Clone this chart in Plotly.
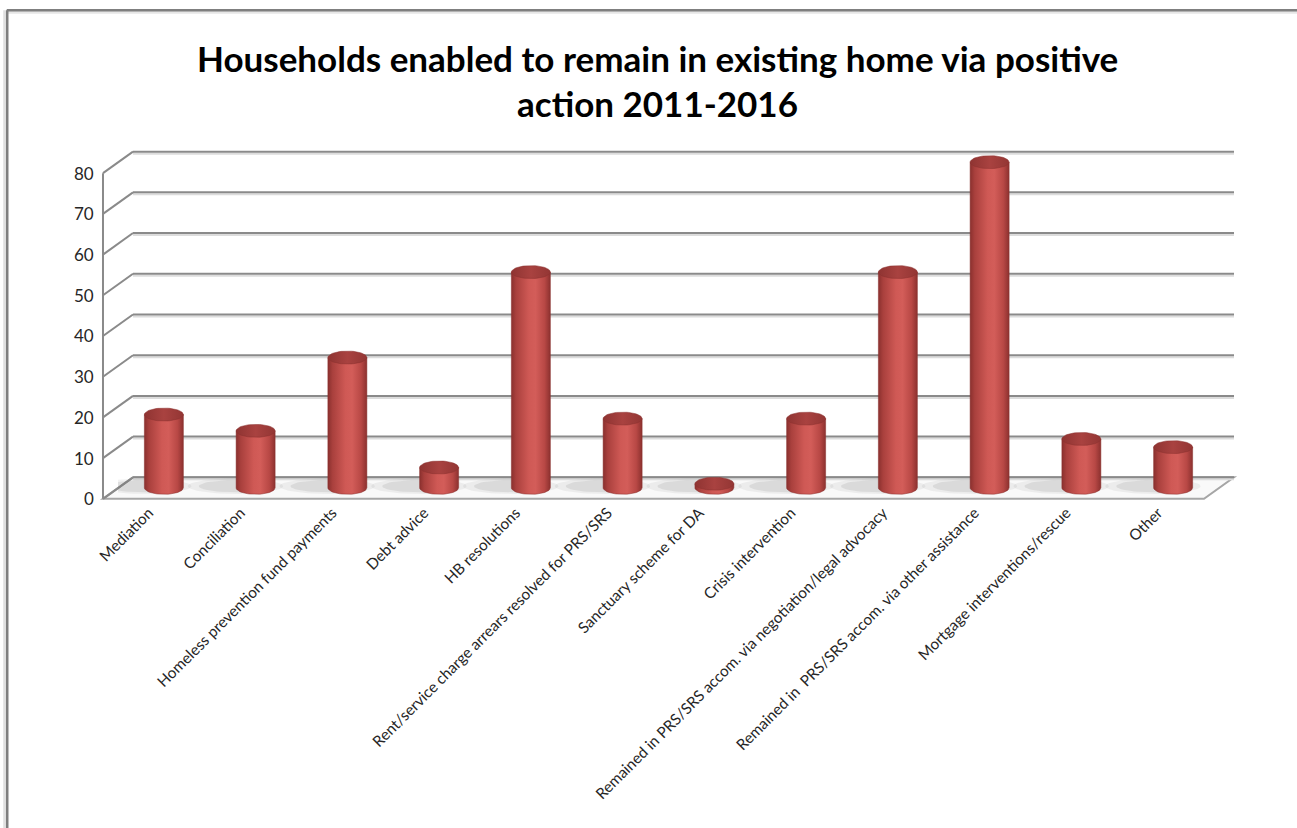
import numpy as np
import plotly.graph_objects as go

# ---------------- data ----------------
categories = [
    "Mediation",
    "Conciliation",
    "Homeless prevention fund payments",
    "Debt advice",
    "HB resolutions",
    "Rent/service charge arrears resolved for PRS/SRS",
    "Sanctuary scheme for DA",
    "Crisis intervention",
    "Remained in PRS/SRS accom. via negotiation/legal advocacy",
    "Remained in  PRS/SRS accom. via other assistance",
    "Mortgage interventions/rescue",
    "Other",
]
values = [18, 14, 32, 5, 53, 17, 1, 17, 53, 80, 12, 10]
y_ticks = [0, 10, 20, 30, 40, 50, 60, 70, 80]
title_lines = ["Households enabled to remain in existing home via positive", "action 2011-2016"]

# ---------------- geometry (pixels) ----------------
W, H = 1297, 828
X_LEFT = 118.2          # left edge of the middle (bar) plane
PITCH = 91.7            # px per category
Y0 = 487.5              # px of value 0 on the bar plane
S = 4.07                # px per unit
YMIN, YMAX = -2.5, 82
BACK = (15, -10.5)      # offset of back wall from bar plane
FRONT = (-15, 11)       # offset of front face from bar plane

n = len(categories)
l = X_LEFT
r = W - (X_LEFT + n * PITCH)
t = Y0 - S * YMAX
b = H - (Y0 - S * YMIN)
pw = W - l - r
ph = H - t - b


def xpx(xv):
    return l + (xv + 0.5) * PITCH


def ypx(v):
    return Y0 - S * v


def px2paper(px, py):
    return (px - l) / pw, (H - b - py) / ph


fig = go.Figure()

shapes = []
grid_col = "#8a8a8a"


def pline(x0, y0, x1, y1, color=grid_col, width=2):
    a0, b0 = px2paper(x0, y0)
    a1, b1 = px2paper(x1, y1)
    shapes.append(dict(type="line", xref="paper", yref="paper", x0=a0, y0=b0, x1=a1, y1=b1,
                       line=dict(color=color, width=width), layer="below"))


x_left_mid = xpx(-0.5)
x_right_mid = xpx(n - 0.5)

# floor
fl = [(x_left_mid + BACK[0], ypx(0) + BACK[1]), (x_right_mid + BACK[0], ypx(0) + BACK[1]),
      (x_right_mid + FRONT[0], ypx(0) + FRONT[1]), (x_left_mid + FRONT[0], ypx(0) + FRONT[1])]
path = "M " + " L ".join(f"{px2paper(*p)[0]},{px2paper(*p)[1]}" for p in fl) + " Z"
shapes.append(dict(type="path", xref="paper", yref="paper", path=path,
                   fillcolor="#f9f9f9", line=dict(color="#a6a6a6", width=2), layer="below"))

# back wall gridlines + left wall diagonals
for v in y_ticks:
    yb = ypx(v) + BACK[1]
    yf = ypx(v) + FRONT[1]
    pline(x_left_mid + BACK[0], yb + 2, x_right_mid + BACK[0], yb + 2, color="#dcdcdc", width=2)
    pline(x_left_mid + BACK[0], yb, x_right_mid + BACK[0], yb)
    pline(x_left_mid + FRONT[0], yf, x_left_mid + BACK[0], yb)

# front vertical axis line
pline(x_left_mid + FRONT[0], ypx(0) + FRONT[1], x_left_mid + FRONT[0], ypx(max(y_ticks)) + FRONT[1])

# outer frame (top + left) with soft shadow
pline(5, 12, W + 5, 12, color="#e6e6e6", width=3)
pline(5, 10, 5, H + 5, color="#e0e0e0", width=3)
pline(7, 10, W + 5, 10, color="#7f7f7f", width=2.5)
pline(7.5, 10, 7.5, H + 5, color="#7f7f7f", width=2.5)

# ---------------- cylinders ----------------
rx = 19.5 / PITCH
ry = 6.5 / S
tt = np.linspace(0, 2 * np.pi, 61)
arc = np.linspace(0, -np.pi, 31)

body_scale = [[0.0, "#8a302e"], [0.12, "#a9403d"], [0.45, "#cf5955"], [0.62, "#d35d59"],
              [0.85, "#b84845"], [1.0, "#8c312f"]]
top_scale = [[0.0, "#8f3432"], [0.5, "#a94240"], [1.0, "#933634"]]

for i, v in enumerate(values):
    # soft shadow on floor (behind / left of the base)
    for srx, sry, op in [(0.52, 1.9, 0.09), (0.40, 1.5, 0.14)]:
        fig.add_trace(go.Scatter(
            x=(i - 0.22 + srx * np.cos(tt)), y=(0.4 + sry * np.sin(tt)),
            mode="lines", fill="toself", line=dict(width=0),
            fillcolor=f"rgba(110,110,110,{op})", hoverinfo="skip", showlegend=False))
    bx = [i - rx, i + rx, i + rx] + list(i + rx * np.cos(arc)) + [i - rx, i - rx]
    by = [v, v, 0] + list(ry * np.sin(arc)) + [0, v]
    fig.add_trace(go.Scatter(
        x=bx, y=by, mode="lines", fill="toself", line=dict(width=0.5, color="#8a302e"),
        fillgradient=dict(type="horizontal", colorscale=body_scale),
        name=categories[i], hovertemplate=f"{categories[i]}: {v}<extra></extra>", showlegend=False))
    fig.add_trace(go.Scatter(
        x=i + rx * np.cos(tt), y=v + ry * np.sin(tt), mode="lines", fill="toself",
        line=dict(width=0.5, color="#8a302e"),
        fillgradient=dict(type="horizontal", colorscale=top_scale),
        hoverinfo="skip", showlegend=False))

# ---------------- y tick labels (front face) ----------------
annotations = []
for v in y_ticks:
    ax_, ay_ = px2paper(96, ypx(v) + FRONT[1])
    annotations.append(dict(x=ax_, y=ay_, xref="paper", yref="paper", text=str(v),
                            showarrow=False, xanchor="right", yanchor="middle",
                            font=dict(family="Lato", size=17, color="#262626")))

# ---------------- title (two centred lines) ----------------
for k, (line, cy) in enumerate(zip(title_lines, [58, 103])):
    ax_, ay_ = px2paper(657, cy)
    annotations.append(dict(x=ax_, y=ay_, xref="paper", yref="paper", text=f"<b>{line}</b>",
                            showarrow=False, xanchor="center", yanchor="middle",
                            font=dict(family="Lato", size=35, color="black")))

fig.update_layout(
    width=W, height=H,
    margin=dict(l=l, r=r, t=t, b=b, pad=0),
    paper_bgcolor="white", plot_bgcolor="rgba(0,0,0,0)",
    shapes=shapes, annotations=annotations,
    xaxis=dict(range=[-0.5, n - 0.5], tickmode="array", tickvals=list(range(n)),
               ticktext=categories, tickangle=-45, showgrid=False, zeroline=False,
               showline=False, ticks="", ticklabelshift=-15, ticklabelstandoff=2,
               tickfont=dict(family="Lato", size=15.3, color="#262626"), fixedrange=True),
    yaxis=dict(range=[YMIN, YMAX], showgrid=False, zeroline=False, showline=False,
               showticklabels=False, ticks="", fixedrange=True),
    showlegend=False,
)

fig.write_html("out.html", config={"displayModeBar": False},
               post_script="document.body.style.margin='0';")
